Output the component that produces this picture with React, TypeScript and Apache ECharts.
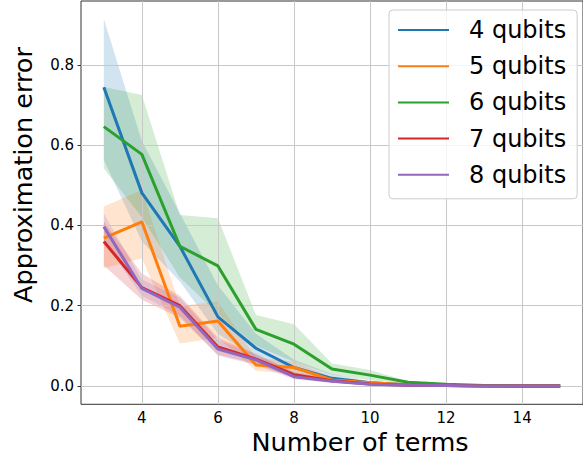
import React, { useEffect, useRef } from "react";
import * as echarts from "echarts";

const terms = [3, 4, 5, 6, 7, 8, 9, 10, 11, 12, 13, 14, 15];
const seriesNames = ["4 qubits", "5 qubits", "6 qubits", "7 qubits", "8 qubits"];
const colors = ["#1f77b4", "#ff7f0e", "#2ca02c", "#d62728", "#9467bd"];

const mean4 = [0.744, 0.481, 0.348, 0.172, 0.094, 0.046, 0.019, 0.008, 0.003, 0.001, 0.0005, 0, 0];
const upper4 = [0.914, 0.61, 0.43, 0.25, 0.13, 0.065, 0.03, 0.012, 0.005, 0.002, 0.001, 0, 0];
const lower4 = [0.563, 0.36, 0.26, 0.13, 0.07, 0.03, 0.012, 0.004, 0.001, 0, 0, 0, 0];

const mean5 = [0.368, 0.409, 0.149, 0.162, 0.052, 0.046, 0.015, 0.008, 0.003, 0.001, 0, 0, 0];
const upper5 = [0.447, 0.488, 0.2, 0.21, 0.07, 0.06, 0.022, 0.012, 0.005, 0.002, 0.001, 0, 0];
const lower5 = [0.293, 0.318, 0.106, 0.12, 0.038, 0.03, 0.01, 0.004, 0.001, 0, 0, 0, 0];

const mean6 = [0.646, 0.577, 0.348, 0.299, 0.141, 0.104, 0.042, 0.027, 0.009, 0.004, 0.001, 0, 0];
const upper6 = [0.745, 0.725, 0.426, 0.418, 0.177, 0.154, 0.056, 0.04, 0.012, 0.006, 0.002, 0, 0];
const lower6 = [0.542, 0.42, 0.27, 0.18, 0.1, 0.06, 0.028, 0.014, 0.006, 0.002, 0, 0, 0];

const mean7 = [0.36, 0.245, 0.2, 0.097, 0.067, 0.028, 0.013, 0.005, 0.002, 0.001, 0, 0, 0];
const upper7 = [0.41, 0.28, 0.225, 0.12, 0.08, 0.035, 0.018, 0.007, 0.003, 0.001, 0, 0, 0];
const lower7 = [0.3, 0.215, 0.17, 0.078, 0.055, 0.02, 0.009, 0.003, 0.001, 0, 0, 0, 0];

const mean8 = [0.397, 0.243, 0.196, 0.092, 0.065, 0.023, 0.012, 0.004, 0.002, 0.001, 0, 0, 0];
const upper8 = [0.43, 0.265, 0.22, 0.115, 0.078, 0.032, 0.016, 0.006, 0.003, 0.001, 0, 0, 0];
const lower8 = [0.36, 0.225, 0.175, 0.075, 0.052, 0.016, 0.008, 0.002, 0.001, 0, 0, 0, 0];

const means = [mean4, mean5, mean6, mean7, mean8];
const uppers = [upper4, upper5, upper6, upper7, upper8];
const lowers = [lower4, lower5, lower6, lower7, lower8];

const xTicks = [4, 6, 8, 10, 12, 14];
const yTicks = [0, 0.2, 0.4, 0.6, 0.8];

const FONT = "DejaVu Sans";

export default function App() {
  const ref = useRef<HTMLDivElement>(null);
  useEffect(() => {
    if (!ref.current) return;
    const chart = echarts.init(ref.current, undefined, { renderer: "svg" });

    const bandSeries = seriesNames.map((name, k) => ({
      type: "custom",
      name: name + " band",
      z: 1,
      silent: true,
      data: [[terms[0], uppers[k][0]]],
      renderItem: (params: any, api: any) => {
        const pts: number[][] = [];
        for (let i = 0; i < terms.length; i++) pts.push(api.coord([terms[i], uppers[k][i]]));
        for (let i = terms.length - 1; i >= 0; i--) pts.push(api.coord([terms[i], lowers[k][i]]));
        return {
          type: "polygon",
          shape: { points: pts },
          style: { fill: colors[k], opacity: 0.2 },
          silent: true,
        };
      },
    }));

    const lineSeries = seriesNames.map((name, k) => ({
      type: "line",
      name,
      z: 3,
      data: terms.map((t, i) => [t, means[k][i]]),
      showSymbol: false,
      symbol: "none",
      color: colors[k],
      lineStyle: { color: colors[k], width: 3 },
    }));

    const gridSeries = {
      type: "line",
      name: "grid",
      z: 2,
      data: [],
      markLine: {
        silent: true,
        z: 2,
        symbol: ["none", "none"],
        label: { show: false },
        lineStyle: { color: "#c8c8c8", width: 1, type: "solid" },
        data: [
          ...xTicks.map((v) => ({ xAxis: v })),
          ...yTicks.map((v) => ({ yAxis: v })),
        ],
      },
    };

    chart.setOption({
      animation: false,
      grid: {
        left: 81,
        top: 1,
        width: 506.6,
        height: 403.3,
        show: true,
        borderColor: "#333",
        borderWidth: 1,
        backgroundColor: "transparent",
      },
      xAxis: {
        type: "value",
        min: 2.4,
        max: 15.6,
        axisLine: { show: false },
        splitLine: { show: false },
        axisTick: { show: true, length: 3.5, lineStyle: { color: "#333" }, customValues: xTicks },
        axisLabel: {
          customValues: xTicks,
          fontFamily: FONT,
          fontSize: 15,
          lineHeight: 15,
          color: "#000",
          margin: 6,
        },
      },
      yAxis: {
        type: "value",
        min: -0.0457,
        max: 0.959,
        axisLine: { show: false },
        splitLine: { show: false },
        axisTick: { show: true, length: 3.5, lineStyle: { color: "#333" }, customValues: yTicks },
        axisLabel: {
          customValues: yTicks,
          fontFamily: FONT,
          fontSize: 15,
          color: "#000",
          margin: 7,
          formatter: (v: number) => v.toFixed(1),
        },
      },
      legend: {
        data: seriesNames.map((n) => ({ name: n, icon: "rect" })),
        orient: "vertical",
        left: 389,
        top: 10,
        itemWidth: 51,
        itemHeight: 2,
        itemGap: 12.2,
        padding: [8, 11, 12, 9],
        backgroundColor: "rgba(255,255,255,0.8)",
        borderColor: "#cccccc",
        borderWidth: 1,
        borderRadius: 4,
        textStyle: {
          fontFamily: FONT,
          fontSize: 24,
          lineHeight: 24,
          color: "#000",
          padding: [0, 0, 0, 15],
        },
      },
      graphic: [
        {
          type: "text",
          x: 360,
          y: 442,
          style: {
            text: "Number of terms",
            font: `25.5px ${FONT}`,
            fill: "#000",
            textAlign: "center",
            textVerticalAlign: "middle",
          },
        },
        {
          type: "text",
          x: 23,
          y: 175,
          rotation: Math.PI / 2,
          style: {
            text: "Approximation error",
            font: `25.5px ${FONT}`,
            fill: "#000",
            textAlign: "center",
            textVerticalAlign: "middle",
          },
        },
      ],
      series: [...bandSeries, gridSeries, ...lineSeries],
    });
    return () => chart.dispose();
  }, []);
  return (
    <div
      ref={ref}
      style={{ position: "fixed", left: 0, top: 0, width: 583, height: 459, background: "#fff" }}
    />
  );
}
